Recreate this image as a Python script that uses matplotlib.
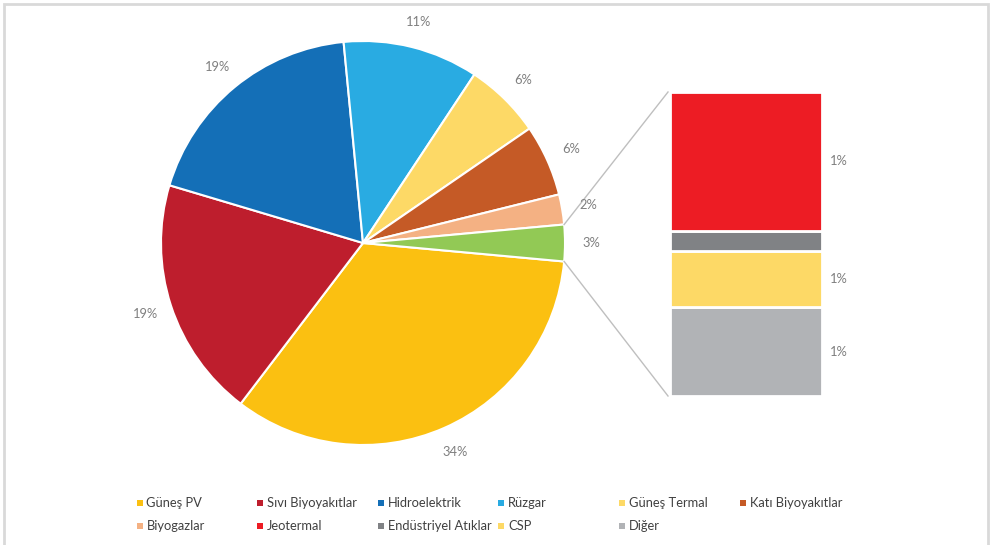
import numpy as np
import matplotlib.pyplot as plt
from matplotlib.patches import Rectangle

plt.rcParams['font.family'] = ['Lato', 'DejaVu Sans']

# Pie slices (share, %), clockwise from the right-hand side
pie_names = ["Güneş PV", "Sıvı Biyoyakıtlar", "Hidroelektrik", "Rüzgar",
             "Güneş Termal", "Katı Biyoyakıtlar", "Biyogazlar"]
pie_values = [33.8, 19.2, 18.8, 10.8, 6.1, 5.7, 2.4]
pie_colors = ["#FBC011", "#BE1E2D", "#146FB7", "#29ABE2",
              "#FDD966", "#C55A26", "#F4B183"]

# Small sources grouped in the bar (bottom to top)
bar_names = ["Diğer", "CSP", "Endüstriyel Atıklar", "Jeotermal"]
bar_values = [0.85, 0.54, 0.19, 1.33]
bar_colors = ["#B1B3B6", "#FDD966", "#808285", "#ED1C24"]
other_color = "#92C955"

legend_names = ["Güneş PV", "Sıvı Biyoyakıtlar", "Hidroelektrik", "Rüzgar",
                "Güneş Termal", "Katı Biyoyakıtlar", "Biyogazlar", "Jeotermal",
                "Endüstriyel Atıklar", "CSP", "Diğer"]
legend_colors = ["#FBC011", "#BE1E2D", "#146FB7", "#29ABE2", "#FDD966", "#C55A26",
                 "#F4B183", "#ED1C24", "#808285", "#FDD966", "#B1B3B6"]

W, H = 992, 545
fig = plt.figure(figsize=(W / 100, H / 100), dpi=100)
ax = fig.add_axes([0, 0, 1, 1])
ax.set_xlim(0, W)
ax.set_ylim(0, H)
ax.axis("off")

label_color = "#7F7F7F"
fs = 9.3

# outer frame
ax.add_patch(Rectangle((4, -10), W - 8.5, H - 4 + 10, fill=False,
                       edgecolor="#D9D9D9", linewidth=2))

# pie
cx, cy, r = 363, H - 243, 202
other_total = sum(bar_values)
values = pie_values + [other_total]
colors = pie_colors + [other_color]
total = sum(values)
start = -other_total / total * 360 / 2

wedges, _, autotexts = ax.pie(values, colors=colors, center=(cx, cy), radius=r,
                              startangle=start, counterclock=False,
                              autopct="%.0f%%", pctdistance=1.13,
                              wedgeprops=dict(edgecolor="white", linewidth=1.5),
                              textprops=dict(color=label_color, fontsize=fs))
ax.set_xlim(0, W)
ax.set_ylim(0, H)
ax.set_aspect("auto")

# bar of the grouped slice
bx, bw = 670, 152
btop, bbot = H - 92, H - 396
scale = (btop - bbot) / other_total
bottom = bbot
for name, v, c in zip(bar_names, bar_values, bar_colors):
    ax.bar(bx + bw / 2, v * scale, width=bw, bottom=bottom, color=c,
           edgecolor="white", linewidth=2)
    pct = v / total * 100
    if round(pct) >= 1:
        ax.text(bx + bw + 8, bottom + v * scale / 2, f"{pct:.0f}%",
                color=label_color, fontsize=fs, va="center", ha="left")
    bottom += v * scale

# connector lines from the grouped slice to the bar
w_other = wedges[-1]
for ang, yb in [(w_other.theta2, btop), (w_other.theta1, bbot)]:
    px = cx + r * np.cos(np.radians(ang))
    py = cy + r * np.sin(np.radians(ang))
    ax.plot([px, bx - 2], [py, yb], color="#BFBFBF", linewidth=1)

# legend
col_x = [139.5, 260, 380.5, 501, 622, 742.5]
row_y = [H - 503, H - 526]
for i, (name, c) in enumerate(zip(legend_names, legend_colors)):
    x = col_x[i % 6]
    y = row_y[i // 6]
    ax.add_patch(Rectangle((x - 3, y - 3), 6, 6, color=c, linewidth=0))
    ax.text(x + 7, y, name, color="#404040", fontsize=fs, va="center", ha="left")

fig.savefig("out.png", dpi=100)
